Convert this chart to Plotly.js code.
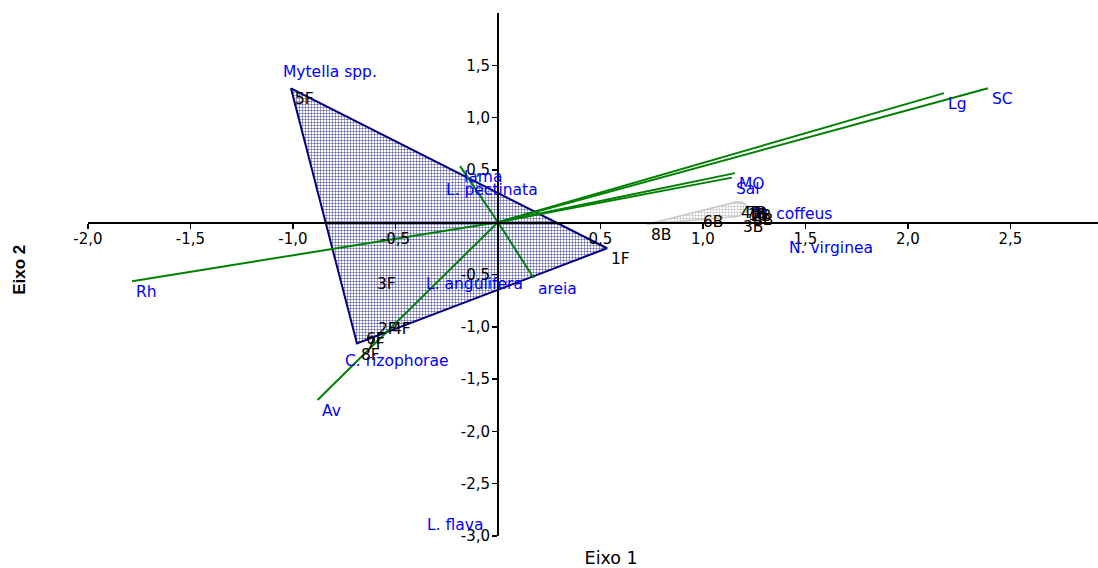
<!DOCTYPE html>
<html><head><meta charset="utf-8">
<script src="https://cdn.plot.ly/plotly-3.0.1.min.js"></script>
<style>html,body{margin:0;padding:0;background:#fff}#chart{width:1098px;height:568px}</style>
</head><body><div id="chart"></div>
<script>
// Site scores (F group)
const fSites = ['1F','2F','3F','4F','5F','6F','7F','8F'];
const fX = [0.532, -0.605, -0.61, -0.537, -1.01, -0.663, -0.663, -0.688];
const fY = [-0.249, -0.92, -0.49, -0.92, 1.28, -1.01, -1.06, -1.16];
// Site scores (B group)
const bSites = ['1B','2B','3B','4B','5B','6B','7B','8B'];
const bX = [1.20, 1.215, 1.176, 1.166, 1.225, 0.98, 1.19, 0.727];
const bY = [0.17, 0.16, 0.057, 0.195, 0.124, 0.105, 0.19, -0.02];
// Environmental vectors
const envVars = ['Rh','SC','Lg','MO','Sal','lama','areia','Av'];
const envX = [-1.785, 2.39, 2.176, 1.156, 1.141, -0.185, 0.174, -0.88];
const envY = [-0.565, 1.28, 1.234, 0.469, 0.426, 0.536, -0.533, -1.70];
// Species scores
const species = ['Mytella spp.','L. pectinata','L. angulifera','C. rizophorae','L. flava','N. virginea','M. coffeus'];
const spX = [-1.068, -0.273, -0.371, -0.766, -0.366, 1.40, 1.224];
const spY = [1.54, 0.411, -0.488, -1.225, -2.785, -0.144, 0.182];
// Ticks
const xTickVals = [-2, -1.5, -1, -0.5, 0.5, 1, 1.5, 2, 2.5];
const xTickText = ['-2,0','-1,5','-1,0','-0,5','0,5','1,0','1,5','2,0','2,5'];
const yTickVals = [-3, -2.5, -2, -1.5, -1, -0.5, 0.5, 1, 1.5];
const yTickText = ['-3,0','-2,5','-2,0','-1,5','-1,0','-0,5','0,5','1,0','1,5'];

function hull(xs, ys) {
  const pts = xs.map((x, i) => [x, ys[i]]).sort((a, b) => a[0] - b[0] || a[1] - b[1]);
  const cross = (o, a, b) => (a[0]-o[0])*(b[1]-o[1]) - (a[1]-o[1])*(b[0]-o[0]);
  const lower = [], upper = [];
  for (const p of pts) { while (lower.length >= 2 && cross(lower[lower.length-2], lower[lower.length-1], p) <= 0) lower.pop(); lower.push(p); }
  for (let i = pts.length - 1; i >= 0; i--) { const p = pts[i]; while (upper.length >= 2 && cross(upper[upper.length-2], upper[upper.length-1], p) <= 0) upper.pop(); upper.push(p); }
  const h = lower.slice(0, -1).concat(upper.slice(0, -1));
  h.push(h[0]);
  return {x: h.map(p => p[0]), y: h.map(p => p[1])};
}

const hf = hull(fX, fY), hb = hull(bX, bY);
const vx = [], vy = [];
envX.forEach((x, i) => { vx.push(0, x, null); vy.push(0, envY[i], null); });

const FONT = 'DejaVu Sans';
const traces = [
  {type:'scatter', mode:'lines', x: hf.x, y: hf.y, fill:'toself',
   line:{color:'#000080', width:2},
   fillpattern:{shape:'+', fgcolor:'#10108a', bgcolor:'#ffffff', size:3, solidity:0.25},
   hoverinfo:'skip', showlegend:false},
  {type:'scatter', mode:'lines', x: hb.x, y: hb.y, fill:'toself',
   line:{color:'#c8c8c8', width:1.5},
   fillpattern:{shape:'+', fgcolor:'#bdbdbd', bgcolor:'#ffffff', size:3, solidity:0.35},
   hoverinfo:'skip', showlegend:false},
  {type:'scatter', mode:'lines', x: vx, y: vy, line:{color:'#008000', width:2},
   hoverinfo:'skip', showlegend:false},
  {type:'scatter', mode:'markers', x: [], y: [], xaxis:'x2', yaxis:'y2', showlegend:false}
];

const ann = [];
function addLabels(names, xs, ys, color, size) {
  names.forEach((t, i) => ann.push({x: xs[i], y: ys[i], xref:'x', yref:'y', text: t,
    showarrow:false, xanchor:'left', yanchor:'top', xshift:2, yshift:0,
    font:{family: FONT, size: size, color: color}}));
}
addLabels(envVars, envX, envY, '#0000ff', 15.5);
addLabels(species, spX, spY, '#0000ff', 15.5);
addLabels(fSites, fX, fY, '#000000', 15.5);
addLabels(bSites, bX, bY, '#000000', 15.5);

const tickfont = {family: FONT, size: 15, color:'#000'};
const layout = {
  width:1098, height:568,
  margin:{l:88, r:0, t:13, b:32},
  paper_bgcolor:'#ffffff', plot_bgcolor:'rgba(0,0,0,0)',
  showlegend:false,
  font:{family: FONT, color:'#000'},
  xaxis:{range:[-2, 2.927], anchor:'free', position:0.6, showline:true, linecolor:'#000', linewidth:1.5,
    ticks:'outside', ticklen:5, tickwidth:1.5, tickcolor:'#000', tickvals:xTickVals, ticktext:xTickText,
    ticklabelstandoff:-3,
    showgrid:false, zeroline:false, tickfont: tickfont, fixedrange:true},
  yaxis:{range:[-3, 2], anchor:'free', position:0.405, showline:true, linecolor:'#000', linewidth:1.5,
    ticks:'outside', ticklen:5, tickwidth:1.5, tickcolor:'#000', tickvals:yTickVals, ticktext:yTickText,
    ticklabelstandoff:-1,
    showgrid:false, zeroline:false, tickfont: tickfont, fixedrange:true},
  xaxis2:{domain:[0.036, 1], anchor:'y2', range:[0,1], showline:false, showticklabels:false, ticks:'',
    showgrid:false, zeroline:false, fixedrange:true,
    title:{text:'Eixo 1', standoff:28, font:{family: FONT, size:17.5, color:'#000'}}},
  yaxis2:{domain:[0.018, 1], anchor:'free', position:0, range:[0,1], showline:false, showticklabels:false, ticks:'',
    showgrid:false, zeroline:false, fixedrange:true,
    title:{text:'Eixo 2', standoff:57, font:{family:'Liberation Sans', size:17, color:'#000', weight:'bold'}}},
  annotations: ann
};
Plotly.newPlot('chart', traces, layout, {displayModeBar:false, staticPlot:true});
</script></body></html>
